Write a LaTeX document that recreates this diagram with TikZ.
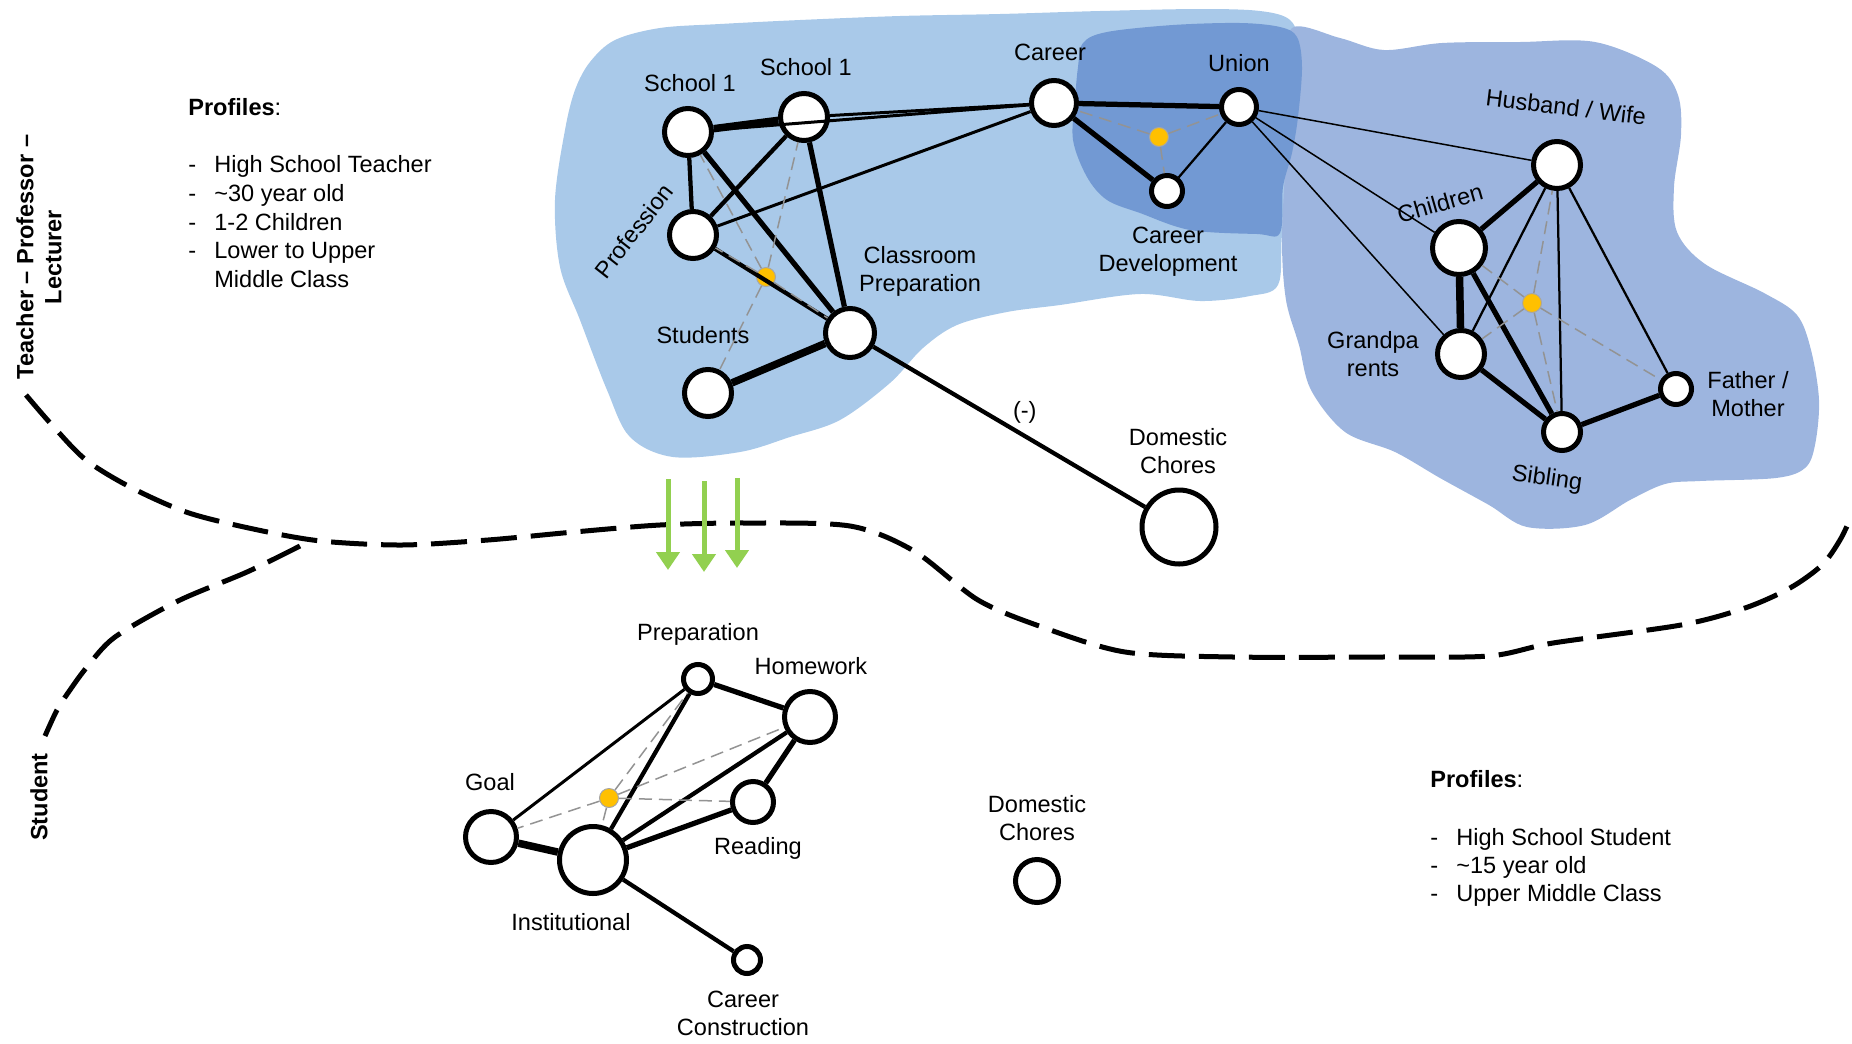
\documentclass[tikz,border=0pt]{standalone}
\usepackage{fontspec}
\setmainfont{Liberation Sans}
\usetikzlibrary{arrows.meta}
\definecolor{blobTeach}{RGB}{169,201,233}
\definecolor{blobFamily}{RGB}{157,181,223}
\definecolor{blobUnion}{RGB}{114,153,211}
\definecolor{hubYellow}{RGB}{255,192,0}
\definecolor{shiftGreen}{RGB}{146,208,80}
\tikzset{
    actor/.style={circle, draw=black, fill=white, line width=1mm, inner sep=0pt},
    hubdot/.style={circle, fill=hubYellow, draw=gray!70, line width=0.2mm,
        inner sep=0pt, minimum size=3.8mm},
    spoke/.style={draw=gray!85, line width=0.3mm, dash pattern=on 2.6mm off 1.4mm},
    tieA/.style={draw=black, line width=0.3mm},
    tieB/.style={draw=black, line width=0.45mm},
    tieC/.style={draw=black, line width=0.6mm},
    tieD/.style={draw=black, line width=0.85mm},
    tieE/.style={draw=black, line width=1.05mm},
    tieF/.style={draw=black, line width=1.5mm},
    lbl/.style={font=\fontsize{13.4}{16}\selectfont, inner sep=0pt},
    lblbold/.style={font=\fontsize{13.4}{16}\selectfont\bfseries, inner sep=0pt},
    border/.style={line width=1mm, dash pattern=on 7.2mm off 2.8mm, line join=round},
    shiftarrow/.style={draw=shiftGreen, line width=1mm,
        -{Triangle[length=3.6mm,width=4.6mm]}}
}
\newcommand{\profline}[1]{\makebox[5.2mm][l]{-}#1}

\begin{document}
\begin{tikzpicture}[x=0.2mm, y=-0.2mm]
    \useasboundingbox (0,0) rectangle (1852,1043);

    % Background blobs
    \fill[blobTeach] plot[smooth cycle, tension=0.55] coordinates {
        (590,62) (615,40) (660,28) (720,24) (800,20) (900,16) (1000,14)
        (1100,11) (1200,9) (1260,11) (1290,20) (1298,45) (1297,110)
        (1290,170) (1282,235) (1278,285) (1250,296) (1200,301) (1140,294)
        (1060,305) (1007,312) (957,325) (923,348) (890,383) (840,420)
        (790,437) (740,452) (673,457) (630,437) (607,390) (580,320)
        (560,267) (555,200) (565,130) (575,90)};
    \fill[blobFamily] plot[smooth cycle, tension=0.55] coordinates {
        (1292,28) (1340,38) (1384,50) (1442,43) (1520,42) (1595,42)
        (1657,67) (1678,95) (1681,135) (1674,187) (1677,232) (1705,264)
        (1764,293) (1797,315) (1811,350) (1819,400) (1815,445) (1805,468)
        (1776,478) (1700,481) (1665,484) (1630,500) (1585,525) (1527,527)
        (1489,505) (1440,478) (1395,452) (1345,432) (1311,390) (1299,345)
        (1286,300) (1282,240) (1286,150) (1288,80)};
    \fill[blobUnion] plot[smooth cycle, tension=0.55] coordinates {
        (1083,43) (1107,32) (1173,25) (1240,23) (1280,27) (1297,37)
        (1302,67) (1298,117) (1292,153) (1283,187) (1280,233) (1257,234)
        (1190,230) (1140,213) (1107,200) (1087,177) (1073,140) (1075,100)
        (1078,67)};

    % Border between the two roles
    \draw[border] plot[smooth] coordinates {
        (26,395) (52,425) (86,460) (132,488) (189,513) (258,530) (321,541)
        (402,545) (488,540) (574,532) (660,525) (746,523) (850,526)
        (914,551) (978,600) (1042,627) (1125,652) (1233,657) (1380,657)
        (1489,656) (1553,643) (1681,625) (1745,608) (1790,588) (1822,565)
        (1840,540) (1852,515)};
    \draw[border] plot[smooth] coordinates {
        (300,546) (247,572) (178,601) (115,637) (87,667) (70,690)
        (57,710) (45,736)};

    % Role labels
    \node[lblbold, rotate=90, align=center] (t-role) at (39,257)
        {Teacher – Professor –\\Lecturer};
    \node[lblbold, rotate=90] (t-student) at (39,797) {Student};

    % Teacher profile
    \node[lbl, anchor=base west] (p-head) at (188,115) {\textbf{Profiles}:};
    \node[lbl, anchor=base west] (p-1) at (188,172) {\profline{High School Teacher}};
    \node[lbl, anchor=base west] (p-2) at (188,201) {\profline{\textasciitilde 30 year old}};
    \node[lbl, anchor=base west] (p-3) at (188,230) {\profline{1-2 Children}};
    \node[lbl, anchor=base west] (p-4) at (188,258) {\profline{Lower to Upper}};
    \node[lbl, anchor=base west] (p-5) at (188,287) {\makebox[5.2mm]{}Middle Class};

    % Student profile
    \node[lbl, anchor=base west] (q-head) at (1430,787) {\textbf{Profiles}:};
    \node[lbl, anchor=base west] (q-1) at (1430,845) {\profline{High School Student}};
    \node[lbl, anchor=base west] (q-2) at (1430,873) {\profline{\textasciitilde 15 year old}};
    \node[lbl, anchor=base west] (q-3) at (1430,901) {\profline{Upper Middle Class}};

    % Teacher network
    \node[actor, minimum size=9.4mm] (sa) at (688,132) {};
    \node[actor, minimum size=9.4mm] (sb) at (804,117) {};
    \node[actor, minimum size=9.4mm] (prof) at (693,235) {};
    \node[actor, minimum size=9.8mm] (cls) at (850,333) {};
    \node[actor, minimum size=9.4mm] (stu) at (708,393) {};
    \node[actor, minimum size=9mm] (car) at (1054,103) {};
    \node[actor, minimum size=7mm] (uni) at (1239,107) {};
    \node[actor, minimum size=6.2mm] (cdev) at (1167,191) {};
    \node[actor, minimum size=14.8mm] (dch) at (1179,527) {};
    \node[hubdot] (h1) at (766,277) {};
    \node[hubdot] (h2) at (1159,137) {};

    % Family network
    \node[actor, minimum size=9.4mm] (hus) at (1557,165) {};
    \node[actor, minimum size=10.6mm] (chi) at (1459,248) {};
    \node[actor, minimum size=9.4mm] (gra) at (1461,354) {};
    \node[actor, minimum size=7.4mm] (sib) at (1562,432) {};
    \node[actor, minimum size=6.2mm] (fam) at (1676,389) {};
    \node[hubdot] (h3) at (1532,303) {};

    % Student network
    \node[actor, minimum size=5.8mm] (prep) at (698,679) {};
    \node[actor, minimum size=10.2mm] (hw) at (810,717) {};
    \node[actor, minimum size=8.2mm] (rd) at (753,802) {};
    \node[actor, minimum size=10.2mm] (goal) at (491,837) {};
    \node[actor, minimum size=13.4mm] (inst) at (593,860) {};
    \node[actor, minimum size=5.4mm] (ccon) at (747,960) {};
    \node[actor, minimum size=8.6mm] (dch2) at (1037,881) {};
    \node[hubdot] (h4) at (609,798) {};

    % Node labels
    \node[lbl] (t-sa) at (690,83) {School 1};
    \node[lbl] (t-sb) at (806,67) {School 1};
    \node[lbl, rotate=52] (t-prof) at (634,231) {Profession};
    \node[lbl, align=center] (t-cls) at (920,271) {Classroom\\Preparation};
    \node[lbl] (t-stu) at (703,335) {Students};
    \node[lbl] (t-car) at (1050,52) {Career};
    \node[lbl] (t-uni) at (1239,63) {Union};
    \node[lbl, align=center] (t-cdev) at (1168,252) {Career\\Development};
    \node[lbl, align=center] (t-dch) at (1178,451) {Domestic\\Chores};
    \node[lbl, rotate=-7] (t-hus) at (1566,107) {Husband / Wife};
    \node[lbl, rotate=16] (t-chi) at (1440,203) {Children};
    \node[lbl, align=center] (t-gra) at (1373,354) {Grandpa\\rents};
    \node[lbl, align=center] (t-fam) at (1748,394) {Father /\\Mother};
    \node[lbl, rotate=-8] (t-sib) at (1547,479) {Sibling};
    \node[lbl] (t-prep) at (698,634) {Preparation};
    \node[lbl] (t-hw) at (811,666) {Homework};
    \node[lbl] (t-goal) at (490,782) {Goal};
    \node[lbl] (t-rd) at (758,848) {Reading};
    \node[lbl] (t-inst) at (571,922) {Institutional};
    \node[lbl, align=center] (t-ccon) at (743,1013) {Career\\Construction};
    \node[lbl, align=center] (t-dch2) at (1037,818) {Domestic\\Chores};

    % Teacher ties
    \draw[tieF] (sa) -- (sb);
    \draw[tieD] (sa) -- (prof);
    \draw[tieC] (sa) -- (car);
    \draw[tieC] (sb) -- (car);
    \draw[tieE] (sa) -- (cls);
    \draw[tieD] (sb) -- (prof);
    \draw[tieE] (sb) -- (cls);
    \draw[tieC] (prof) -- (car);
    \draw[tieD] (prof) -- (cls);
    \draw[tieF] (stu) -- (cls);
    \draw[tieD] (cls) -- node[lbl, pos=0.5, above right=1pt] (t-neg) {(-)} (dch);
    \draw[tieE] (car) -- (uni);
    \draw[tieE] (car) -- (cdev);
    \draw[tieB] (uni) -- (cdev);
    \foreach \a/\b in {h1/sa, h1/sb, h1/prof, h1/cls, h1/stu, h2/car, h2/uni, h2/cdev}
        \draw[spoke] (\a) -- (\b);

    % Family ties
    \draw[tieA] (uni) -- (hus);
    \draw[tieA] (uni) -- (chi);
    \draw[tieA] (uni) -- (gra);
    \draw[tieE] (hus) -- (chi);
    \draw[tieB] (hus) -- (gra);
    \draw[tieB] (hus) -- (sib);
    \draw[tieB] (hus) -- (fam);
    \draw[tieF] (chi) -- (gra);
    \draw[tieE] (chi) -- (sib);
    \draw[tieE] (gra) -- (sib);
    \draw[tieE] (sib) -- (fam);
    \foreach \n in {hus, chi, gra, sib, fam}
        \draw[spoke] (h3) -- (\n);

    % Student ties
    \draw[tieE] (prep) -- (hw);
    \draw[tieC] (prep) -- (goal);
    \draw[tieD] (prep) -- (inst);
    \draw[tieD] (hw) -- (inst);
    \draw[tieE] (hw) -- (rd);
    \draw[tieE] (rd) -- (inst);
    \draw[tieF] (goal) -- (inst);
    \draw[tieD] (inst) -- (ccon);
    \foreach \n in {prep, hw, rd, goal, inst}
        \draw[spoke] (h4) -- (\n);

    % Transfer arrows
    \coordinate (g1s) at (668,479);
    \coordinate (g1e) at (668,570);
    \coordinate (g2s) at (704,481);
    \coordinate (g2e) at (704,572);
    \coordinate (g3s) at (737,478);
    \coordinate (g3e) at (737,568);
    \draw[shiftarrow] (g1s) -- (g1e);
    \draw[shiftarrow] (g2s) -- (g2e);
    \draw[shiftarrow] (g3s) -- (g3e);
\end{tikzpicture}
\end{document}
